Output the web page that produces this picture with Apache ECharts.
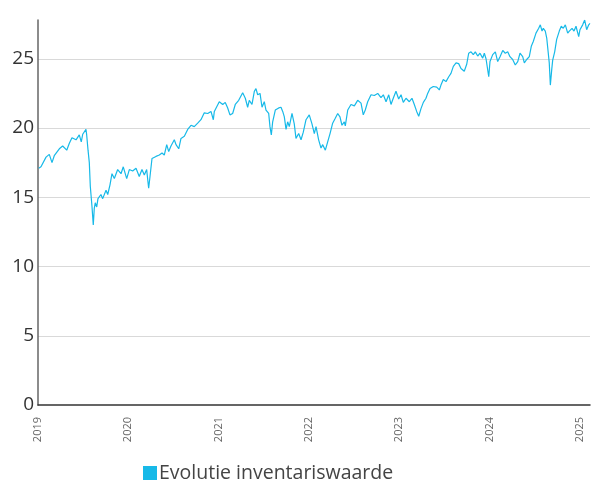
<!DOCTYPE html>
<html>
<head>
<meta charset="utf-8">
<script src="https://cdn.jsdelivr.net/npm/echarts@6/dist/echarts.min.js"></script>
<style>
html,body{margin:0;padding:0;background:#fff;}
#chart{width:597px;height:484px;}
</style>
</head>
<body>
<div id="chart"></div>
<script>
// time positions (decimal years) and inventory values
var times = [
2019.008,2019.033,2019.089,2019.125,2019.155,2019.180,2019.236,2019.273,2019.318,2019.347,
2019.376,2019.421,2019.457,2019.479,2019.495,2019.531,2019.539,2019.554,2019.568,2019.579,
2019.598,2019.612,2019.623,2019.634,2019.650,2019.664,2019.697,2019.716,2019.753,2019.772,
2019.797,2019.819,2019.845,2019.882,2019.919,2019.944,2019.982,
2020.011,2020.048,2020.085,2020.121,2020.151,2020.177,2020.203,2020.225,2020.240,2020.262,
2020.306,2020.343,2020.373,2020.398,2020.425,2020.447,2020.472,2020.509,2020.528,2020.558,
2020.583,2020.620,2020.657,2020.694,2020.730,2020.768,2020.804,2020.841,2020.879,2020.915,
2020.941,2020.952,2020.971,
2021.007,2021.045,2021.073,2021.100,2021.125,2021.155,2021.184,2021.222,2021.266,2021.295,
2021.321,2021.339,2021.369,2021.395,2021.413,2021.432,2021.458,2021.480,2021.505,2021.524,
2021.554,2021.568,2021.583,2021.598,2021.627,2021.665,2021.690,2021.709,2021.727,2021.746,
2021.764,2021.782,2021.812,2021.837,2021.856,2021.886,2021.912,2021.937,2021.967,
2022.003,2022.033,2022.059,2022.078,2022.107,2022.133,2022.152,2022.181,2022.207,2022.233,
2022.262,2022.291,2022.318,2022.343,2022.365,2022.391,2022.402,2022.429,2022.465,2022.502,
2022.539,2022.576,2022.601,2022.623,2022.650,2022.687,2022.723,2022.761,2022.797,2022.823,
2022.853,2022.883,2022.908,2022.933,2022.963,2022.993,
2023.019,2023.044,2023.074,2023.111,2023.140,2023.166,2023.192,2023.215,2023.240,2023.266,
2023.295,2023.314,2023.340,2023.376,2023.414,2023.443,2023.461,2023.487,2023.517,2023.547,
2023.572,2023.598,2023.628,2023.657,2023.683,2023.719,2023.746,2023.768,2023.794,2023.819,
2023.841,2023.868,2023.893,2023.923,2023.941,2023.960,2023.978,2023.990,
2024.004,2024.034,2024.063,2024.089,2024.115,2024.145,2024.173,2024.200,2024.225,2024.255,
2024.284,2024.311,2024.336,2024.366,2024.384,2024.410,2024.439,2024.461,2024.483,2024.513,
2024.543,2024.561,2024.580,2024.594,2024.616,2024.632,2024.646,2024.660,2024.672,2024.687,
2024.698,2024.720,2024.742,2024.771,2024.793,2024.815,2024.838,2024.864,2024.882,2024.912,
2024.934,2024.956,2024.986,
2025.000,2025.030,2025.052,2025.074,2025.097,2025.111
];
var values = [
17.1,17.2,17.9,18.1,17.5,18.0,18.5,18.7,18.4,18.9,
19.3,19.15,19.5,19.0,19.55,19.9,19.5,18.4,17.5,15.8,
14.3,13.0,14.2,14.6,14.3,14.9,15.2,14.9,15.5,15.2,
15.9,16.7,16.35,17.0,16.7,17.2,16.35,
17.0,16.9,17.1,16.5,17.0,16.6,17.0,15.65,16.5,17.8,
17.95,18.05,18.2,18.05,18.8,18.3,18.7,19.15,18.8,18.5,
19.25,19.4,19.9,20.2,20.1,20.35,20.6,21.1,21.05,21.2,
20.6,21.2,21.3,
21.9,21.7,21.85,21.45,20.95,21.05,21.7,22.0,22.55,22.15,
21.5,22.0,21.7,22.65,22.85,22.4,22.5,21.5,21.9,21.3,
21.05,20.1,19.5,20.45,21.3,21.45,21.5,21.2,20.8,19.9,
20.45,20.1,21.05,20.3,19.25,19.6,19.15,19.7,20.6,
20.95,20.3,19.6,20.1,19.15,18.55,18.8,18.4,19.0,19.6,
20.35,20.7,21.05,20.8,20.2,20.45,20.15,21.3,21.7,21.6,
22.0,21.8,20.95,21.3,21.9,22.4,22.35,22.5,22.2,22.4,
21.9,22.4,21.7,22.15,22.65,22.1,
22.4,21.85,22.15,21.9,22.15,21.7,21.2,20.85,21.4,21.85,
22.15,22.5,22.85,23.0,22.95,22.75,23.1,23.5,23.35,23.7,
23.95,24.45,24.7,24.65,24.3,24.1,24.6,25.4,25.5,25.3,
25.5,25.2,25.4,25.05,25.4,25.0,25.05,23.7,
24.8,25.3,25.5,24.8,25.15,25.6,25.4,25.5,25.15,24.95,
24.55,24.8,25.4,25.15,24.7,24.95,25.15,25.9,26.25,26.85,
27.2,27.45,27.0,27.2,27.0,26.5,26.6,24.7,23.1,24.2,
24.9,25.5,26.4,27.0,27.35,27.2,27.45,26.85,27.0,27.2,
27.0,27.35,26.6,
27.1,27.45,27.8,27.1,27.45,27.55
];
var yearTicks = ['2019','2020','2021','2022','2023','2024','2025'];
var seriesName = 'Evolutie inventariswaarde';

var seriesData = times.map(function (t, i) { return [t, values[i]]; });
var lineColor = '#17b9e8';
var fontFamily = '"Open Sans", Lato, sans-serif';

var chart = echarts.init(document.getElementById('chart'), null, {renderer: 'canvas'});
chart.setOption({
  animation: false,
  backgroundColor: '#ffffff',
  grid: {left: 38, right: 7, top: 20, bottom: 79, containLabel: false},
  legend: {
    data: [{name: seriesName, icon: 'rect'}],
    left: 143, top: 463, padding: 0,
    itemWidth: 14, itemHeight: 14,
    textStyle: {fontFamily: fontFamily, fontSize: 19.5, color: '#444', padding: [0, 0, 0, -3]}
  },
  xAxis: {
    type: 'value',
    min: 2019, max: 2025.111, interval: 1,
    axisLine: {show: true, lineStyle: {color: '#333', width: 1.5}},
    axisTick: {show: false},
    splitLine: {show: false},
    axisLabel: {
      rotate: 90, margin: 12, fontSize: 11, color: '#666', fontFamily: fontFamily,
      showMaxLabel: false, showMinLabel: true,
      formatter: function (v) {
        var idx = Math.round(v) - 2019;
        return yearTicks[idx] !== undefined && Math.abs(v - Math.round(v)) < 1e-6 ? yearTicks[idx] : '';
      }
    }
  },
  yAxis: {
    type: 'value',
    min: 0, max: 27.8, interval: 5,
    axisLine: {show: true, lineStyle: {color: '#666', width: 1.5}},
    axisTick: {show: false},
    splitLine: {show: true, showMinLine: false, showMaxLine: false, lineStyle: {color: '#d9d9d9', width: 1}},
    axisLabel: {
      fontSize: 19, color: '#333', margin: 4, fontFamily: fontFamily, showMaxLabel: false,
      formatter: function (v) { return (v % 5 === 0) ? String(v) : ''; }
    }
  },
  series: [{
    name: seriesName,
    type: 'line',
    data: seriesData,
    showSymbol: false,
    symbol: 'none',
    itemStyle: {color: lineColor},
    lineStyle: {color: lineColor, width: 1.2}
  }]
});
</script>
</body>
</html>
